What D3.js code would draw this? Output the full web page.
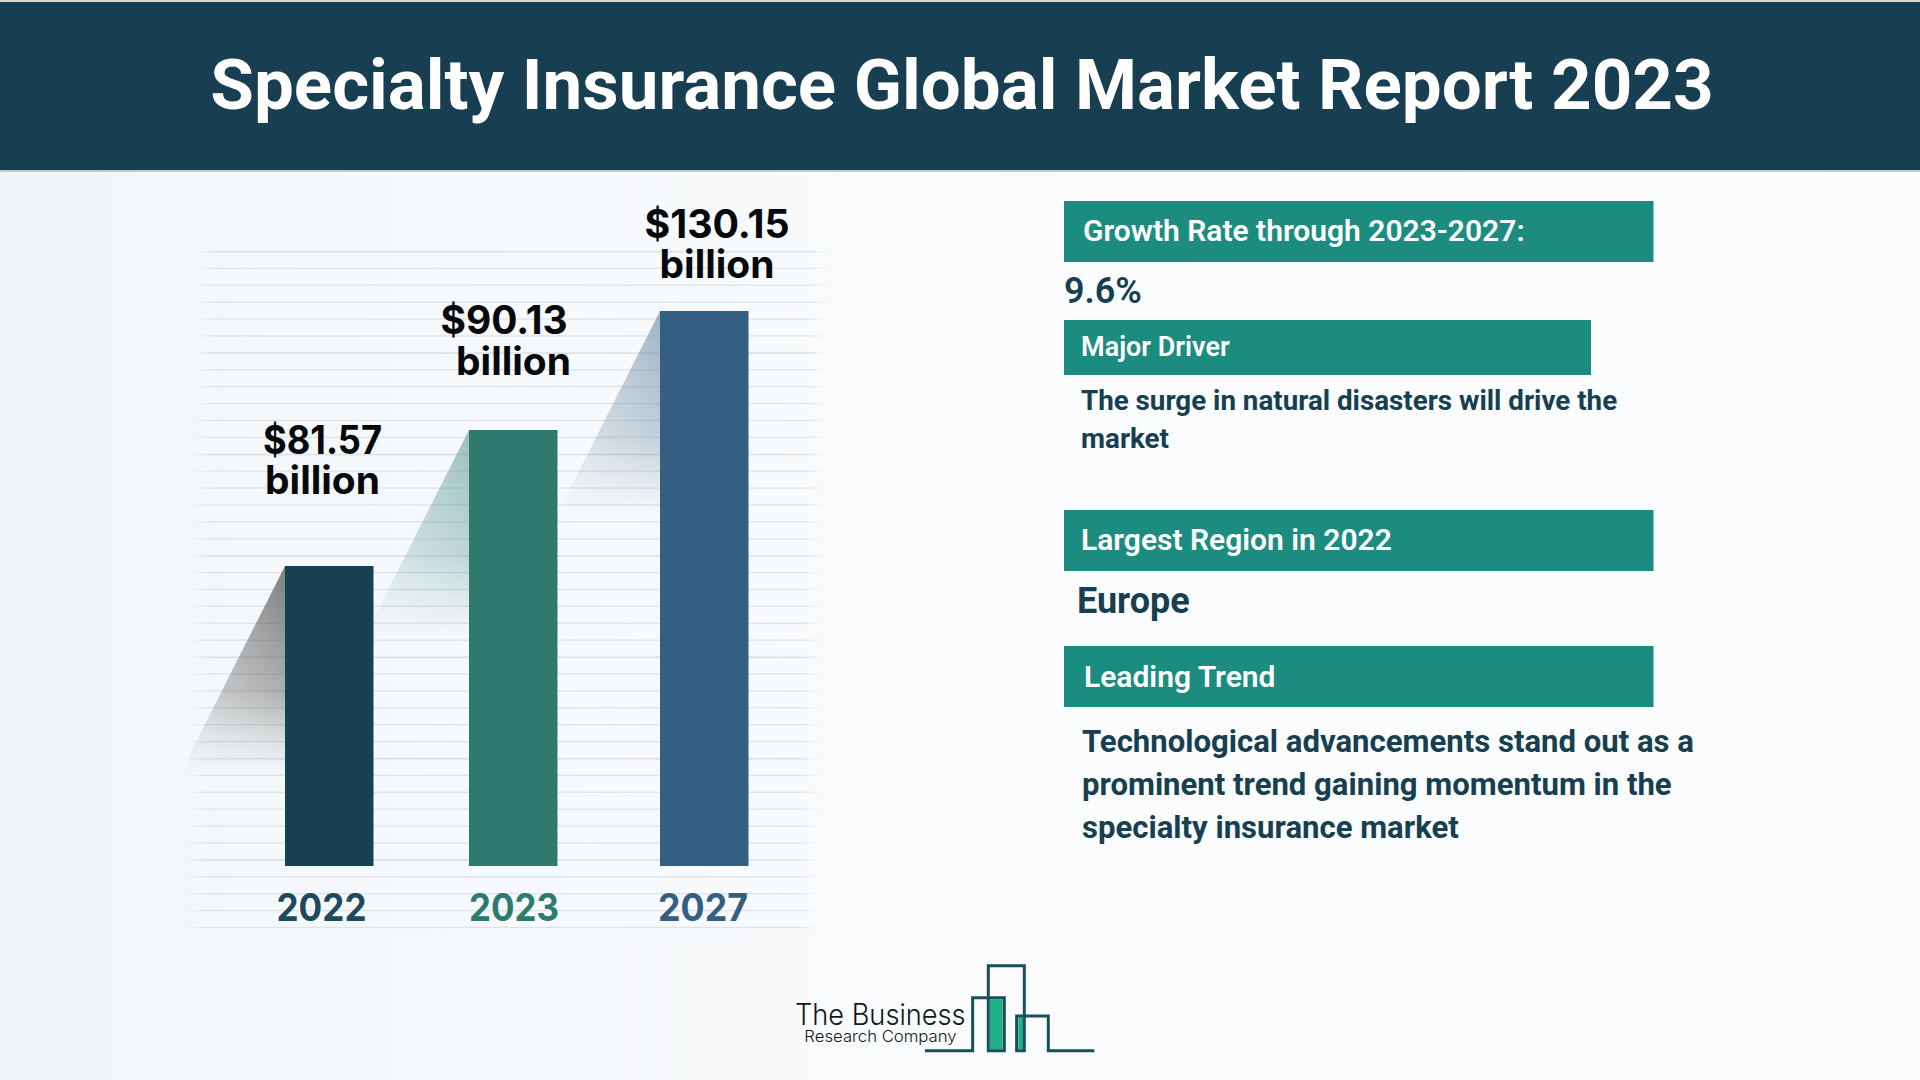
<!DOCTYPE html>
<html>
<head>
<meta charset="utf-8">
<script src="https://cdn.jsdelivr.net/npm/d3@7"></script>
<style>
  html, body { margin: 0; padding: 0; background: #f7fafc; overflow: hidden; }
  svg { display: block; }
  text { font-family: Roboto, sans-serif; }
  .money, .year { font-family: Inter, sans-serif; font-weight: 700; }
</style>
</head>
<body>
<svg id="s" width="1920" height="1080"></svg>
<script>
const svg = d3.select('#s');
const defs = svg.append('defs');

const bars = [
  { year: '2022', value: 81.57, color: '#184053', yearColor: '#1d4a5c', shadow: '#505050', shadowOp: 0.72,
    yearX: 321.5, labels: [['$81.57', 322.5, 454, 119], ['billion', 322.5, 494, 115]] },
  { year: '2023', value: 90.13, color: '#2e7a6e', yearColor: '#2e7a6e', shadow: '#4f928d', shadowOp: 0.55,
    yearX: 514, labels: [['$90.13', 504, 334, 127], ['billion', 513.5, 375, 115]] },
  { year: '2027', value: 130.15, color: '#355f82', yearColor: '#355f82', shadow: '#66869f', shadowOp: 0.6,
    yearX: 703, labels: [['$130.15', 717, 238, 145], ['billion', 717, 278, 115]] },
];

// the bars in the picture are not to scale, so the scale goes through each drawn height
const y = d3.scaleLinear().domain([0, 81.57, 90.13, 130.15]).range([866, 566, 430, 311]);
const x = d3.scaleOrdinal().domain(['2022', '2023', '2027']).range([285, 469, 660]);
const barWidth = 88.5;

const pageFade = defs.append('linearGradient').attr('id', 'pageFade');
pageFade.append('stop').attr('offset', 0).attr('stop-color', '#f3f6f8');
pageFade.append('stop').attr('offset', 0.5).attr('stop-color', '#f9fbfd');
pageFade.append('stop').attr('offset', 1).attr('stop-color', '#fafcfd');
svg.append('rect').attr('width', 1920).attr('height', 1080).attr('fill', 'url(#pageFade)');

// faded stripes behind the bars
const stripeFade = defs.append('linearGradient').attr('id', 'stripeFade');
stripeFade.append('stop').attr('offset', 0).attr('stop-color', '#dde3e7').attr('stop-opacity', 0);
stripeFade.append('stop').attr('offset', 0.03).attr('stop-color', '#dde3e7').attr('stop-opacity', 1);
stripeFade.append('stop').attr('offset', 0.97).attr('stop-color', '#dde3e7').attr('stop-opacity', 1);
stripeFade.append('stop').attr('offset', 1).attr('stop-color', '#dde3e7').attr('stop-opacity', 0);

svg.append('g').selectAll('rect')
  .data(d3.range(41))
  .enter()
  .append('rect')
  .attr('x', i => 196 - i * 0.3)
  .attr('y', i => 250.8 + i * 16.9)
  .attr('width', 632)
  .attr('height', i => (i % 6 === 0 ? 1.8 : 1.3))
  .attr('fill', 'url(#stripeFade)');

// shadows running down-left from each bar's top corner, lighter away from the bar
const shadowDx = 98;
const shadowDy = 206;
const maskFade = defs.append('linearGradient').attr('id', 'maskFade');
maskFade.append('stop').attr('offset', 0).attr('stop-color', '#fff').attr('stop-opacity', 0.5);
maskFade.append('stop').attr('offset', 1).attr('stop-color', '#fff').attr('stop-opacity', 1);

bars.forEach((d, i) => {
  const g = defs.append('linearGradient').attr('id', 'shadow' + i).attr('x1', 0).attr('y1', 0).attr('x2', 0).attr('y2', 1);
  [[0, 1], [0.6, 0.62], [0.88, 0.16], [1, 0]].forEach(s => {
    g.append('stop').attr('offset', s[0]).attr('stop-color', d.shadow).attr('stop-opacity', s[1] * d.shadowOp);
  });
  const left = x(d.year) - shadowDx;
  defs.append('mask').attr('id', 'shadowMask' + i).attr('maskUnits', 'userSpaceOnUse')
    .attr('x', left).attr('y', y(d.value)).attr('width', shadowDx).attr('height', shadowDy)
    .append('rect')
    .attr('x', left).attr('y', y(d.value)).attr('width', shadowDx).attr('height', shadowDy)
    .attr('fill', 'url(#maskFade)');
});

svg.append('g').selectAll('path')
  .data(bars)
  .enter()
  .append('path')
  .attr('d', d => {
    const top = y(d.value);
    const bx = x(d.year);
    return d3.line()([[bx, top], [bx - shadowDx, top + shadowDy * 0.94], [bx - shadowDx, top + shadowDy], [bx, top + shadowDy]]) + 'Z';
  })
  .attr('fill', (d, i) => `url(#shadow${i})`)
  .attr('mask', (d, i) => `url(#shadowMask${i})`);

svg.append('g').selectAll('rect')
  .data(bars)
  .enter()
  .append('rect')
  .attr('x', d => x(d.year))
  .attr('y', d => y(d.value))
  .attr('width', barWidth)
  .attr('height', d => y(0) - y(d.value))
  .attr('fill', d => d.color);

svg.append('g').selectAll('text')
  .data(bars.flatMap(d => d.labels))
  .enter()
  .append('text')
  .attr('class', 'money')
  .attr('x', d => d[1])
  .attr('y', d => d[2])
  .attr('text-anchor', 'middle')
  .attr('font-size', 39)
  .attr('textLength', d => d[3])
  .attr('lengthAdjust', 'spacingAndGlyphs')
  .attr('fill', '#05090d')
  .text(d => d[0]);

svg.append('g').selectAll('text')
  .data(bars)
  .enter()
  .append('text')
  .attr('class', 'year')
  .attr('x', d => d.yearX)
  .attr('y', 921)
  .attr('text-anchor', 'middle')
  .attr('font-size', 38)
  .attr('textLength', 90)
  .attr('lengthAdjust', 'spacingAndGlyphs')
  .attr('fill', d => d.yearColor)
  .text(d => d.year);

// header
svg.append('rect').attr('width', 1920).attr('height', 2).attr('fill', '#d9d9d0');
svg.append('rect').attr('y', 2).attr('width', 1920).attr('height', 168).attr('fill', '#183f51');
svg.append('rect').attr('y', 170).attr('width', 1920).attr('height', 2).attr('fill', '#c3c9cc');
svg.append('text')
  .attr('x', 962)
  .attr('y', 109)
  .attr('text-anchor', 'middle')
  .attr('font-size', 70.9)
  .attr('font-weight', 700)
  .attr('fill', '#ffffff')
  .text('Specialty Insurance Global Market Report 2023');

// right panel
const boxes = [
  { x: 1064, y: 201, w: 589.5, h: 61 },
  { x: 1064, y: 320, w: 527, h: 55 },
  { x: 1064, y: 510, w: 589.5, h: 61 },
  { x: 1064, y: 646, w: 589.5, h: 61 },
];
svg.append('g').selectAll('rect')
  .data(boxes)
  .enter()
  .append('rect')
  .attr('x', d => d.x)
  .attr('y', d => d.y)
  .attr('width', d => d.w)
  .attr('height', d => d.h)
  .attr('fill', '#1d8c80');

const texts = [
  ['Growth Rate through 2023-2027:', 1083, 241, 30, 600, '#ffffff'],
  ['9.6%', 1064, 303, 36, 600, '#173f50'],
  ['Major Driver', 1081, 356, 27, 600, '#ffffff'],
  ['The surge in natural disasters will drive the', 1081, 410, 27.75, 700, '#173f50'],
  ['market', 1081, 448, 27.75, 700, '#173f50'],
  ['Largest Region in 2022', 1081, 550, 30, 600, '#ffffff'],
  ['Europe', 1077, 613, 36, 700, '#173f50'],
  ['Leading Trend', 1084, 687, 30, 600, '#ffffff'],
  ['Technological advancements stand out as a', 1082, 752, 31.1, 700, '#173f50'],
  ['prominent trend gaining momentum in the', 1082, 795, 31.1, 700, '#173f50'],
  ['specialty insurance market', 1082, 838, 31.1, 700, '#173f50'],
];
svg.append('g').selectAll('text')
  .data(texts)
  .enter()
  .append('text')
  .attr('x', d => d[1])
  .attr('y', d => d[2])
  .attr('font-size', d => d[3])
  .attr('font-weight', d => d[4])
  .attr('fill', d => d[5])
  .text(d => d[0]);

// logo, in zoomed crop units
const logo = svg.append('g').attr('transform', 'translate(760,940) scale(0.3333)');
logo.append('rect').attr('x', 690).attr('y', 178).attr('width', 38).attr('height', 150).attr('fill', '#1fb08a');
logo.append('rect').attr('x', 775).attr('y', 232).attr('width', 15).attr('height', 96).attr('fill', '#1fb08a');
logo.append('path')
  .attr('d', d3.line()([[495, 332], [638, 332], [638, 173], [733, 173], [733, 332], [685, 332], [685, 77], [793, 77], [793, 332], [770, 332], [770, 228], [865, 228], [865, 332], [1003, 332]]))
  .attr('fill', 'none')
  .attr('stroke', '#17505c')
  .attr('stroke-width', 9);
logo.append('text').attr('x', 105).attr('y', 255).attr('font-size', 88).attr('font-weight', 300)
  .attr('textLength', 512).attr('lengthAdjust', 'spacingAndGlyphs')
  .style('font-family', 'Inter, sans-serif').attr('fill', '#10181c').text('The Business');
logo.append('text').attr('x', 133).attr('y', 305).attr('font-size', 48).attr('font-weight', 300)
  .attr('textLength', 457).attr('lengthAdjust', 'spacingAndGlyphs')
  .style('font-family', 'Inter, sans-serif').attr('fill', '#10181c').text('Research Company');
</script>
</body>
</html>
